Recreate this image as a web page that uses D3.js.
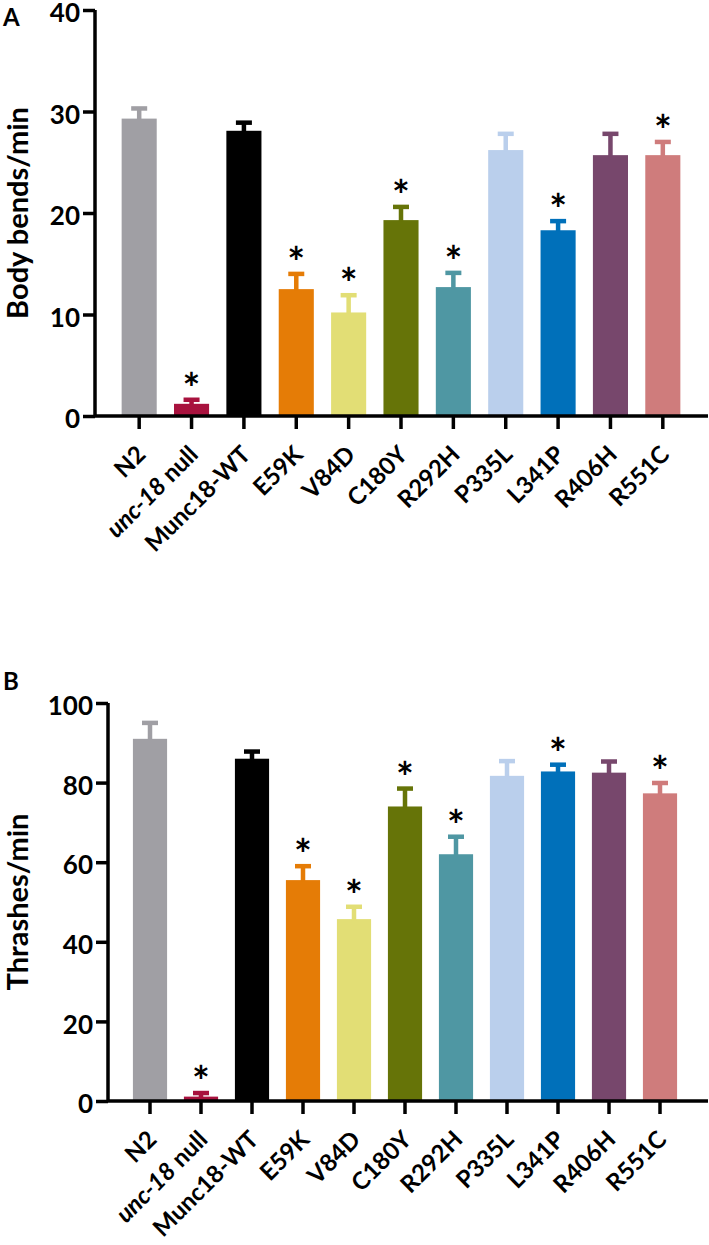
<!DOCTYPE html>
<html>
<head>
<meta charset="utf-8">
<script src="https://cdn.jsdelivr.net/npm/d3@7"></script>
<style>
  body { margin: 0; background: #fff; }
  svg { display: block; font-family: Lato, "Open Sans", sans-serif; font-weight: bold; }
</style>
</head>
<body>
<svg width="709" height="1245"></svg>
<script>
// Strains on the x axis
const categories = ["N2", "unc-18 null", "Munc18-WT", "E59K", "V84D", "C180Y",
                    "R292H", "P335L", "L341P", "R406H", "R551C"];
const barColors = ["#a09fa4", "#a8123e", "#000000", "#e57c06", "#e2de75", "#667408",
                   "#4f97a3", "#bacfec", "#0070ba", "#77476c", "#cf7c7c"];

// Panel A: body bends per minute (mean, SEM, significance)
const bendsMean = [29.3, 1.2, 28.1, 12.5, 10.2, 19.3, 12.7, 26.2, 18.3, 25.7, 25.7];
const bendsErr  = [1.0, 0.4, 0.8, 1.5, 1.7, 1.3, 1.4, 1.6, 0.9, 2.1, 1.3];
const bendsSig  = [false, true, false, true, true, true, true, false, true, false, true];
const bendsTicks = [0, 10, 20, 30, 40];

// Panel B: thrashes per minute
const thrashMean = [91.0, 1.1, 86.0, 55.5, 45.7, 74.0, 62.0, 81.7, 82.8, 82.5, 77.3];
const thrashErr  = [4.0, 0.9, 1.8, 3.5, 3.1, 4.5, 4.4, 3.7, 1.7, 2.8, 2.6];
const thrashSig  = [false, true, false, true, true, true, true, false, true, false, true];
const thrashTicks = [0, 20, 40, 60, 80, 100];

const svg = d3.select("svg");

function drawPanel(opt) {
    const g = svg.append("g");

    const x = d3.scaleBand()
        .domain(categories)
        .range(opt.xRange)
        .paddingInner(0.33)
        .paddingOuter(0.165);

    const y = d3.scaleLinear()
        .domain([0, opt.ticks[opt.ticks.length - 1]])
        .range(opt.yRange);

    const rows = categories.map((c, i) => ({
        name: c, mean: opt.mean[i], err: opt.err[i], sig: opt.sig[i], color: barColors[i]
    }));

    // bars
    g.selectAll(".bar")
        .data(rows)
        .enter()
        .append("rect")
        .attr("x", d => x(d.name))
        .attr("y", d => y(d.mean))
        .attr("width", x.bandwidth())
        .attr("height", d => y(0) - y(d.mean))
        .attr("fill", d => d.color);

    // error bars (upper only), stem + cap
    const capW = 16, capH = 4.5, stemW = 4.5;
    g.selectAll(".stem")
        .data(rows)
        .enter()
        .append("rect")
        .attr("x", d => x(d.name) + x.bandwidth() / 2 - stemW / 2)
        .attr("y", d => y(d.mean + d.err))
        .attr("width", stemW)
        .attr("height", d => y(d.mean) - y(d.mean + d.err) + 1)
        .attr("fill", d => d.color);
    g.selectAll(".cap")
        .data(rows)
        .enter()
        .append("rect")
        .attr("x", d => x(d.name) + x.bandwidth() / 2 - capW / 2)
        .attr("y", d => y(d.mean + d.err) - capH / 2)
        .attr("width", capW)
        .attr("height", capH)
        .attr("fill", d => d.color);

    // significance stars
    g.selectAll(".star")
        .data(rows.filter(d => d.sig))
        .enter()
        .append("text")
        .attr("x", d => x(d.name) + x.bandwidth() / 2)
        .attr("y", d => y(d.mean + d.err) + 4)
        .attr("text-anchor", "middle")
        .style("font-size", "42px")
        .text("*");

    // y axis
    const yAxis = g.append("g")
        .attr("transform", `translate(${opt.axisX},0)`)
        .call(d3.axisLeft(y).tickValues(opt.ticks).tickSize(12).tickPadding(3));
    yAxis.select(".domain").attr("d", `M0,${opt.yRange[0]}V${opt.yRange[1]}`);

    // x axis
    const xAxis = g.append("g")
        .attr("transform", `translate(0,${opt.yRange[0]})`)
        .call(d3.axisBottom(x).tickSize(13).tickSizeOuter(0));
    xAxis.select(".domain").attr("d", `M${opt.axisX},0H708`);

    [yAxis, xAxis].forEach(a => {
        a.selectAll("path, line").attr("stroke", "#000").attr("stroke-width", 3.5);
        a.selectAll("text").attr("fill", "#000").style("font-family", "Lato, sans-serif").style("font-weight", "bold");
    });
    yAxis.selectAll("text").style("font-size", "26px").attr("dy", "0.45em");

    xAxis.selectAll("text")
        .style("font-size", "24px")
        .attr("text-anchor", "end")
        .attr("dy", null)
        .attr("y", 0)
        .attr("transform", "translate(8,40) rotate(-45)")
        .each(function(d) {
            if (d === "unc-18 null") {
                const t = d3.select(this).text("");
                t.append("tspan").style("font-style", "italic").text("unc-18");
                t.append("tspan").text(" null");
            }
        });

    // axis title
    g.append("text")
        .attr("transform", "rotate(-90)")
        .attr("x", -(opt.yRange[0] + opt.yRange[1]) / 2)
        .attr("y", 28)
        .attr("text-anchor", "middle")
        .style("font-size", "29px")
        .text(opt.title);

    // panel letter
    g.append("text")
        .attr("x", 3)
        .attr("y", opt.letterY)
        .style("font-size", "24px")
        .text(opt.letter);
}

drawPanel({
    mean: bendsMean, err: bendsErr, sig: bendsSig, ticks: bendsTicks,
    xRange: [113, 689], yRange: [416, 10], axisX: 95,
    title: "Body bends/min", letter: "A", letterY: 26
});

drawPanel({
    mean: thrashMean, err: thrashErr, sig: thrashSig, ticks: thrashTicks,
    xRange: [124.5, 685.5], yRange: [1101, 703], axisX: 108,
    title: "Thrashes/min", letter: "B", letterY: 690
});
</script>
</body>
</html>
